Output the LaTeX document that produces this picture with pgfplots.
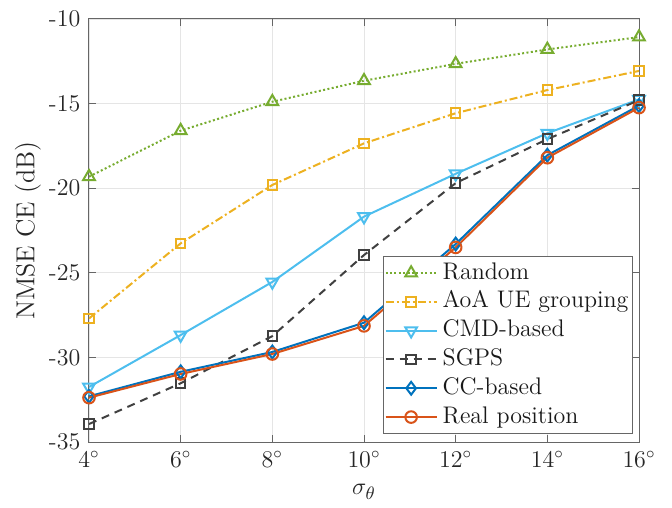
\documentclass[border=0pt]{standalone}
\usepackage{pgfplots}
\pgfplotsset{compat=1.18}
\definecolor{mgreen}{rgb}{0.466,0.674,0.188}
\definecolor{myellow}{rgb}{0.929,0.694,0.125}
\definecolor{mcyan}{rgb}{0.301,0.745,0.933}
\definecolor{mgray}{rgb}{0.25,0.25,0.25}
\definecolor{mblue}{rgb}{0,0.447,0.741}
\definecolor{morange}{rgb}{0.85,0.325,0.098}
\definecolor{axgray}{rgb}{0.15,0.15,0.15}
\begin{document}
\begin{tikzpicture}
\begin{axis}[
  scale only axis, width=275pt, height=211.5pt,
  xmin=4, xmax=16, ymin=-35, ymax=-10,
  xtick={4,6,8,10,12,14,16},
  xticklabels={$4^\circ$,$6^\circ$,$8^\circ$,$10^\circ$,$12^\circ$,$14^\circ$,$16^\circ$},
  ytick={-35,-30,-25,-20,-15,-10},
  yticklabels={-35,-30,-25,-20,-15,-10},
  grid=major, grid style={black!10, line width=0.4pt},
  axis line style={black!60, line width=0.5pt},
  tick style={black!60, line width=0.5pt},
  tick align=inside, major tick length=3.5pt,
  ticklabel style={text=axgray, font=\fontsize{12}{14}\selectfont},
  xticklabel style={yshift=-1.2pt},
  yticklabel style={xshift=-0.8pt},
  xlabel={$\sigma_\theta$}, ylabel={NMSE CE (dB)},
  label style={text=axgray, font=\fontsize{13}{15}\selectfont},
  xlabel style={at={(axis description cs:0.5,-0.118)}, anchor=center},
  ylabel style={at={(axis description cs:-0.111,0.5)}, anchor=center},
  legend style={at={(rel axis cs:0.989,0.019)}, anchor=south east,
    font=\fontsize{12}{14}\selectfont, draw=black!60, line width=0.5pt,
    legend cell align=left, row sep=0pt, inner xsep=0.5pt, inner ysep=1pt, text=black!90,
    nodes={inner ysep=1.6pt, inner xsep=1.5pt, text height=8.6pt, text depth=2.6pt},
    /tikz/every odd column/.append style={column sep=1pt}},
  legend image code/.code={\draw[mark repeat=2,mark phase=2] plot coordinates {(0cm,0cm)(0.45cm,0cm)(0.9cm,0cm)};},
  every axis plot/.append style={line width=1pt},
]
\addplot[mgreen, dash pattern=on 1pt off 1.2pt, mark=triangle, mark size=3.4pt, mark options={solid}]
 coordinates {(4,-19.32)(6,-16.6)(8,-14.89)(10,-13.65)(12,-12.65)(14,-11.8)(16,-11.07)};
\addlegendentry{Random}
\addplot[myellow, dash pattern=on 4pt off 1.5pt on 1pt off 1.5pt, mark=square, mark size=2.4pt, mark options={solid}]
 coordinates {(4,-27.7)(6,-23.26)(8,-19.81)(10,-17.35)(12,-15.57)(14,-14.2)(16,-13.07)};
\addlegendentry{AoA UE grouping}
\addplot[mcyan, mark=triangle, mark size=3.4pt, mark options={solid, rotate=180}]
 coordinates {(4,-31.75)(6,-28.68)(8,-25.54)(10,-21.68)(12,-19.15)(14,-16.75)(16,-14.75)};
\addlegendentry{CMD-based}
\addplot[mgray, dash pattern=on 4pt off 3pt, mark=square, mark size=2.4pt, mark options={solid}]
 coordinates {(4,-33.94)(6,-31.53)(8,-28.74)(10,-23.95)(12,-19.7)(14,-17.1)(16,-14.8)};
\addlegendentry{SGPS}
\addplot[mblue, mark=diamond, mark size=3.2pt, mark options={solid}]
 coordinates {(4,-32.3)(6,-30.85)(8,-29.68)(10,-27.95)(12,-23.3)(14,-18.05)(16,-15.12)};
\addlegendentry{CC-based}
\addplot[morange, mark=o, mark size=2.9pt, mark options={solid}]
 coordinates {(4,-32.38)(6,-30.98)(8,-29.8)(10,-28.14)(12,-23.5)(14,-18.2)(16,-15.24)};
\addlegendentry{Real position}
\end{axis}
\pgfresetboundingbox
\path ([xshift=-44.5pt,yshift=-32.5pt]current axis.south west) rectangle ([xshift=16.5pt,yshift=9.5pt]current axis.north east);
\end{tikzpicture}
\end{document}
